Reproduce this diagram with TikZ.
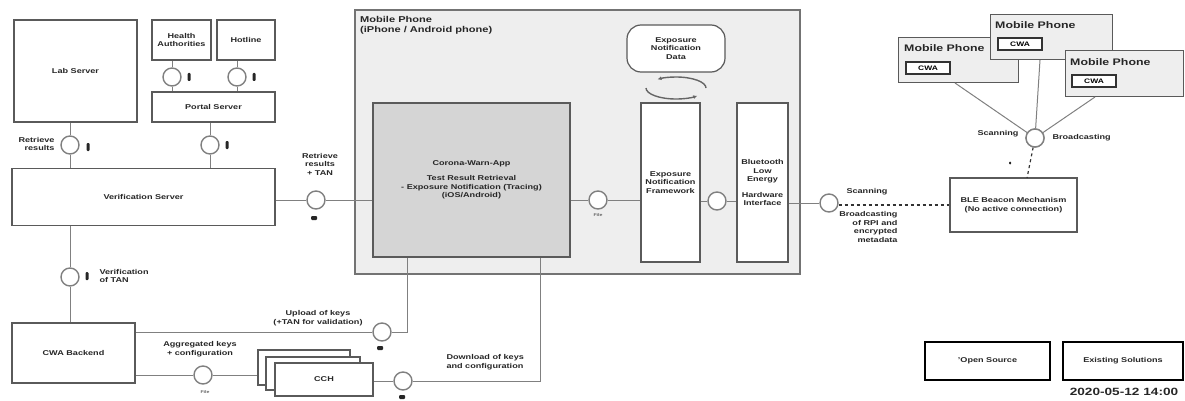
\documentclass[tikz,border=0pt]{standalone}
\usepackage{fontspec}
\setmainfont{Liberation Sans}[FakeStretch=1.3]
\usetikzlibrary{arrows.meta}
\definecolor{edge}{HTML}{5A5A5A}
\definecolor{wire}{HTML}{808080}
\definecolor{phonefill}{HTML}{EEEEEE}
\definecolor{appfill}{HTML}{D5D5D5}
\tikzset{
  txt/.style={font=\bfseries\fontsize{7}{8.5}\selectfont, align=center, text=black!85},
  box/.style={draw=edge, line width=1.2pt, fill=white, txt, inner sep=1pt},
  port/.style={circle, draw=wire, line width=1.4pt, fill=white, minimum size=18pt, inner sep=0pt},
  wireline/.style={draw=wire, line width=1pt},
  blob/.style={fill=black!85, rounded corners=1pt, minimum width=3pt, minimum height=8pt, inner sep=0pt},
  tiny/.style={font=\bfseries\fontsize{4}{5}\selectfont, text=black!60},
  phonebox/.style={draw=edge, line width=1pt, fill=phonefill},
  phonetitle/.style={font=\bfseries\fontsize{9.5}{10}\selectfont, anchor=north west, inner sep=0pt, text=black!85},
  cwatag/.style={draw=black!80, line width=1.2pt, fill=white, font=\bfseries\fontsize{6.5}{7}\selectfont, minimum width=44pt, minimum height=12pt, inner sep=0pt},
  legend/.style={draw=black, line width=1.6pt, fill=white, txt, minimum height=38pt},
}
\begin{document}
\begin{tikzpicture}[x=1pt,y=-1pt]
\useasboundingbox (0,0) rectangle (1185,401);

% ---------------- left servers ----------------
\node[box, minimum width=123pt, minimum height=102pt] (lab) at (75.5,71) {Lab Server};
\node[box, minimum width=59pt, minimum height=40pt] (health) at (181.5,40) {Health\\Authorities};
\node[box, minimum width=58pt, minimum height=40pt] (hotline) at (246,40) {Hotline};
\node[box, minimum width=123pt, minimum height=30pt] (portal) at (213.5,107) {Portal Server};
\node[box, minimum width=263pt, minimum height=57pt] (verif) at (143.5,197) {Verification Server};
\node[box, minimum width=123pt, minimum height=60pt] (backend) at (73.5,353) {CWA Backend};

\node[port] (chealth) at (172,77) {};
\node[port] (chot) at (237,77) {};
\node[port] (clab) at (70,145) {};
\node[port] (cportal) at (210,145) {};
\node[port] (cver) at (70,277) {};

\draw[wireline] (chealth.north) -- (chealth.north |- health.south);
\draw[wireline] (chealth.south) -- (chealth.south |- portal.north);
\draw[wireline] (chot.north) -- (chot.north |- hotline.south);
\draw[wireline] (chot.south) -- (chot.south |- portal.north);
\draw[wireline] (clab.north) -- (clab.north |- lab.south);
\draw[wireline] (clab.south) -- (clab.south |- verif.north);
\draw[wireline] (cportal.north) -- (cportal.north |- portal.south);
\draw[wireline] (cportal.south) -- (cportal.south |- verif.north);
\draw[wireline] (cver.north) -- (cver.north |- verif.south);
\draw[wireline] (cver.south) -- (cver.south |- backend.north);

\node[blob] (bhealth) at (189,77) {};
\node[blob] (bhot) at (254,77) {};
\node[blob] (blab) at (88,147) {};
\node[blob] (bportal) at (227,145) {};
\node[blob] (bver) at (87,276) {};

\node[txt, align=right, anchor=east] (lretr) at (58,144) {Retrieve\\results};
\node[txt, align=left, anchor=west] (lver) at (96,276) {Verification\\of TAN};

% ---------------- mobile phone ----------------
\node[draw=black!55, line width=1.4pt, fill=phonefill, minimum width=445pt, minimum height=264pt, inner sep=0pt] (phone) at (577.5,142) {};
\node[font=\bfseries\fontsize{8.5}{10}\selectfont, align=left, anchor=north west, text=black!85, inner sep=0pt] (phonelbl) at (360,16) {Mobile Phone\\(iPhone / Android phone)};
\node[box, fill=appfill, minimum width=197pt, minimum height=154pt] (cwa) at (471.5,180) {Corona-Warn-App\\[7pt]Test Result Retrieval\\- Exposure Notification (Tracing)\\(iOS/Android)};
\node[box, minimum width=59pt, minimum height=159pt] (enf) at (670.5,182.5) {Exposure\\Notification\\Framework};
\node[box, minimum width=51pt, minimum height=159pt] (ble) at (762.5,182.5) {Bluetooth\\Low\\Energy\\[7pt]Hardware\\Interface};
\node[box, rounded corners=14pt, minimum width=98pt, minimum height=47pt] (data) at (676,48.5) {Exposure\\Notification\\Data};

\draw[draw=black!60, line width=1.4pt, -{Latex[length=4pt,width=4pt]}] (706,88) arc[start angle=0, end angle=-128, x radius=30, y radius=11];
\draw[draw=black!60, line width=1.4pt, -{Latex[length=4pt,width=4pt]}] (646,88) arc[start angle=180, end angle=45, x radius=30, y radius=11];

\node[port] (cret) at (316,200) {};
\node[port] (cfile) at (598,200) {};
\node[port] (cble) at (717,201) {};
\node[port] (cscan) at (829,203) {};

\draw[wireline] (verif.east |- cret.west) -- (cret.west);
\draw[wireline] (cret.east) -- (cret.east -| cwa.west);
\draw[wireline] (cwa.east |- cfile.west) -- (cfile.west);
\draw[wireline] (cfile.east) -- (cfile.east -| enf.west);
\draw[wireline] (enf.east |- cble.west) -- (cble.west);
\draw[wireline] (cble.east) -- (cble.east -| ble.west);
\draw[wireline] (ble.east |- cscan.west) -- (cscan.west);

\node[txt] (lret) at (320,164) {Retrieve\\results\\+ TAN};
\node[blob, minimum width=6pt, minimum height=4pt] (bret) at (314,218) {};
\node[tiny] (lfile) at (598,215) {File};

% ---------------- lower paths ----------------
\node[port] (cup) at (382,332) {};
\node[port] (cagg) at (203,375) {};
\node[port] (cdown) at (403,381) {};

\node[box, minimum width=92pt, minimum height=35pt] (cch3) at (304,367.5) {};
\node[box, minimum width=94pt, minimum height=33pt] (cch2) at (313,373.5) {};
\node[box, minimum width=98pt, minimum height=33pt] (cch) at (324,379.5) {CCH};

\coordinate (upcorner) at (407,332);
\coordinate (downcorner) at (540,381);
\draw[wireline] (cup.west) -- (cup.west -| backend.east);
\draw[wireline] (cup.east) -- (upcorner) -- (upcorner |- cwa.south);
\draw[wireline] (cagg.west) -- (cagg.west -| backend.east);
\draw[wireline] (cagg.east) -- (cagg.east -| cch3.west);
\draw[wireline] (cdown.west) -- (cdown.west -| cch.east);
\draw[wireline] (cdown.east) -- (downcorner) -- (downcorner |- cwa.south);

\node[txt] (lup) at (318,318) {Upload of keys\\(+TAN for validation)};
\node[txt] (lagg) at (200,349) {Aggregated keys\\+ configuration};
\node[txt, align=left, anchor=west] (ldown) at (443,362) {Download of keys\\and configuration};
\node[blob, minimum width=6pt, minimum height=4pt] (bup) at (380,348) {};
\node[blob, minimum width=6pt, minimum height=4pt] (bdown) at (402,397) {};
\node[tiny] (lagg2) at (205,392) {File};

% ---------------- BLE beacon side ----------------
\node[box, minimum width=127pt, minimum height=54pt] (beacon) at (1013.5,205) {BLE Beacon Mechanism\\(No active connection)};
\draw[draw=black!80, line width=1.2pt, dashed] (cscan.east |- beacon.west) -- (beacon.west);
\node[txt, anchor=west] (lscan) at (843,192) {Scanning};
\node[txt, align=right, anchor=north east] (lbroad) at (901,208) {Broadcasting\\of RPI and\\encrypted\\metadata};

\node[phonebox, minimum width=120pt, minimum height=45pt] (ph1) at (958,60.5) {};
\node[phonetitle] (ph1t) at (904,44) {Mobile Phone};
\node[cwatag] (ph1c) at (928,68) {CWA};
\node[phonebox, minimum width=122pt, minimum height=45pt] (ph2) at (1051,37.5) {};
\node[phonetitle] (ph2t) at (995,21) {Mobile Phone};
\node[cwatag] (ph2c) at (1020,44) {CWA};
\node[phonebox, minimum width=118pt, minimum height=46pt] (ph3) at (1124,74) {};
\node[phonetitle] (ph3t) at (1070,58) {Mobile Phone};
\node[cwatag] (ph3c) at (1094,81) {CWA};

\node[port] (chub) at (1035,138) {};
\coordinate (p1b) at (955,83);
\coordinate (p2b) at (1040,60);
\coordinate (p3b) at (1095,97);
\coordinate (beacontop) at (1027,178);
\draw[wireline] (p1b) -- (chub);
\draw[wireline] (p2b) -- (chub);
\draw[wireline] (p3b) -- (chub);
\draw[draw=black!80, line width=1.2pt, dashed] (chub) -- (beacontop);
\node[port] (chubtop) at (1035,138) {};
\node[txt, anchor=east] (lscan2) at (1022,134) {Scanning};
\node[txt, anchor=west] (lbroad2) at (1049,138) {Broadcasting};
\node[blob, minimum width=2pt, minimum height=3pt] (dot) at (1010,163) {};

% ---------------- legend ----------------
\node[legend, minimum width=125pt] (open) at (987.5,361) {'Open Source};
\node[legend, minimum width=120pt] (exist) at (1123,361) {Existing Solutions};
\node[font=\bfseries\fontsize{10.5}{11}\selectfont, text=black!85] (date) at (1124,392) {2020-05-12 14:00};
\end{tikzpicture}
\end{document}
